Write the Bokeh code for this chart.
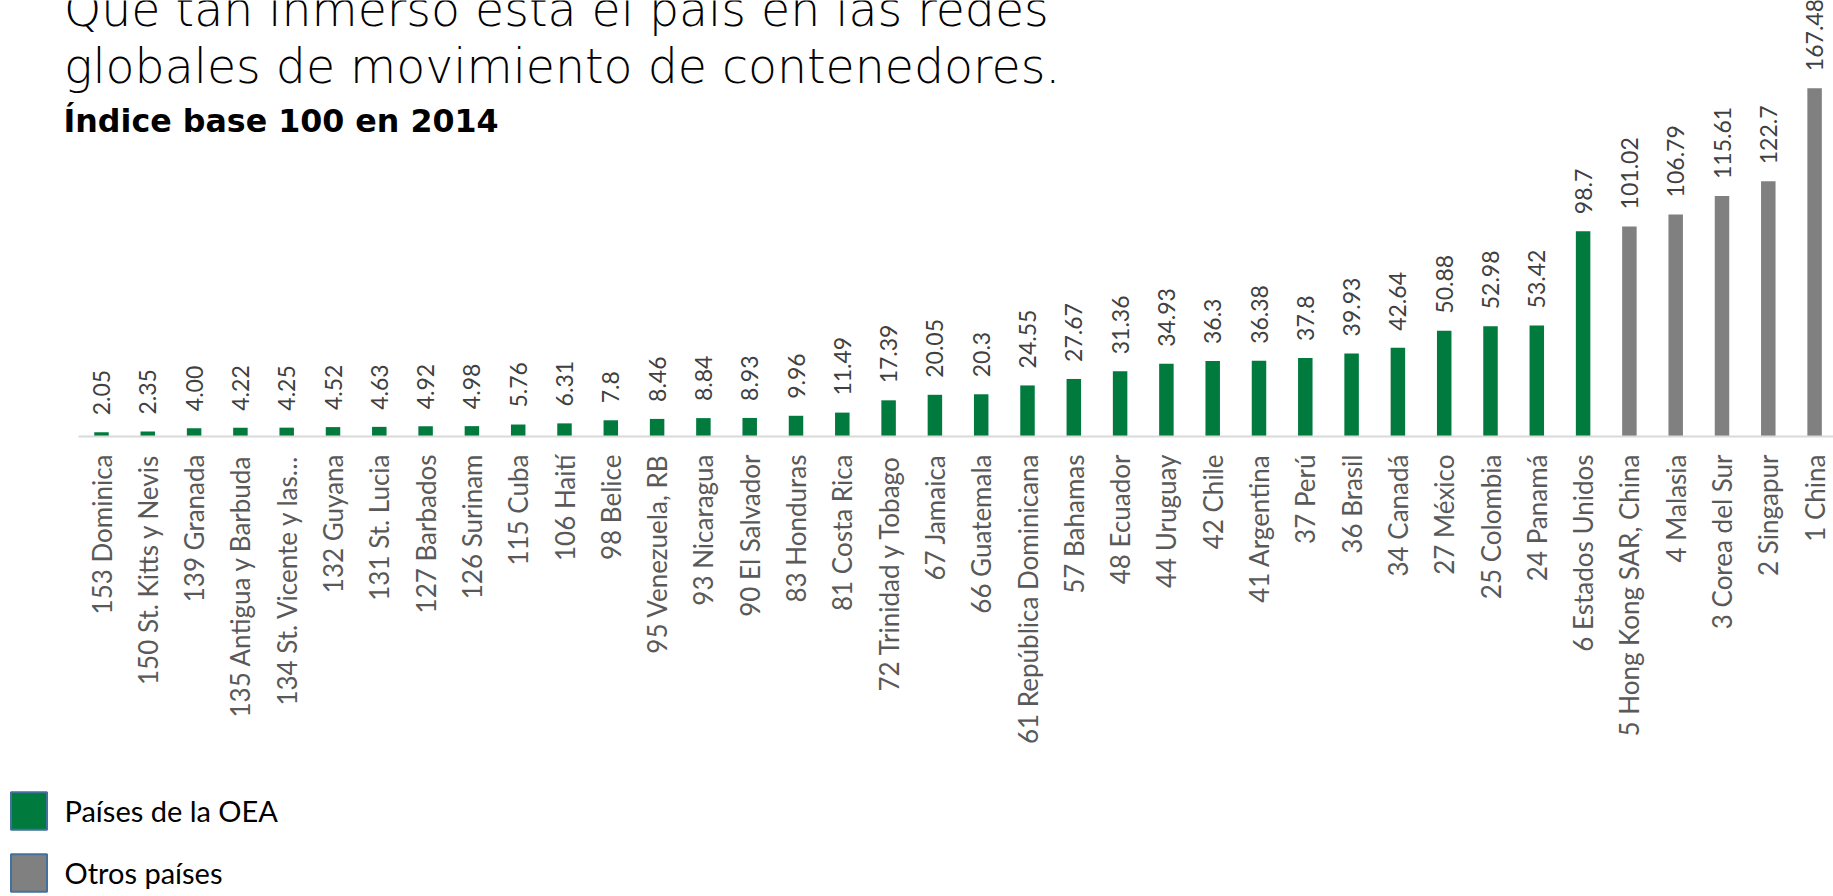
import math
from bokeh.plotting import figure
from bokeh.models import Range1d, FixedTicker, Label, Legend, LegendItem, ColumnDataSource
from bokeh.core.properties import value
from bokeh.embed import file_html
from bokeh.resources import INLINE

# ---------------- data ----------------
countries = [
    "153 Dominica", "150 St. Kitts y Nevis", "139 Granada",
    "135 Antigua y Barbuda", "134 St. Vicente y las…", "132 Guyana",
    "131 St. Lucia", "127 Barbados", "126 Surinam", "115 Cuba",
    "106 Haití", "98 Belice", "95 Venezuela, RB", "93 Nicaragua",
    "90 El Salvador", "83 Honduras", "81 Costa Rica",
    "72 Trinidad y Tobago", "67 Jamaica", "66 Guatemala",
    "61 República Dominicana", "57 Bahamas", "48 Ecuador", "44 Uruguay",
    "42 Chile", "41 Argentina", "37 Perú", "36 Brasil", "34 Canadá",
    "27 México", "25 Colombia", "24 Panamá", "6 Estados Unidos",
    "5 Hong Kong SAR, China", "4 Malasia", "3 Corea del Sur",
    "2 Singapur", "1 China",
]
values = [
    2.05, 2.35, 4.00, 4.22, 4.25, 4.52, 4.63, 4.92, 4.98, 5.76,
    6.31, 7.8, 8.46, 8.84, 8.93, 9.96, 11.49, 17.39, 20.05, 20.3,
    24.55, 27.67, 31.36, 34.93, 36.3, 36.38, 37.8, 39.93, 42.64,
    50.88, 52.98, 53.42, 98.7, 101.02, 106.79, 115.61, 122.7, 167.48,
]
value_labels = [
    "2.05", "2.35", "4.00", "4.22", "4.25", "4.52", "4.63", "4.92", "4.98",
    "5.76", "6.31", "7.8", "8.46", "8.84", "8.93", "9.96", "11.49", "17.39",
    "20.05", "20.3", "24.55", "27.67", "31.36", "34.93", "36.3", "36.38",
    "37.8", "39.93", "42.64", "50.88", "52.98", "53.42", "98.7", "101.02",
    "106.79", "115.61", "122.7", "167.48",
]
groups = ["OEA"] * 33 + ["Otros"] * 5
group_names = {"OEA": "Países de la OEA", "Otros": "Otros países"}
title_lines = ["Que tan inmerso está el país en las redes",
               "globales de movimiento de contenedores."]
subtitle = "Índice base 100 en 2014"

# ---------------- layout / style ----------------
GREEN = "#007A3D"
GREY = "#808080"
colors = {"OEA": GREEN, "Otros": GREY}

W, H = 1833, 896
OFFX, OFFY = 0, 0          # where the canvas sits in the page
X0, DX = 101.0, 46.3       # page px of first category centre, px per category
Y0, DY = 436.0, 2.08       # page px of the value 0, px per unit

def px2x(px):
    return (px - X0) / DX

def px2y(py):
    return (Y0 - py) / DY

xs = list(range(len(countries)))
src = ColumnDataSource(dict(
    x=xs, top=values, lab=value_labels,
    color=[colors[g] for g in groups],
))

p = figure(width=W, height=H, output_backend="svg", toolbar_location=None,
           x_range=Range1d(px2x(OFFX), px2x(OFFX + W)),
           y_range=Range1d(px2y(OFFY + H), px2y(OFFY)),
           min_border=0, title=None)
p.outline_line_color = None
p.grid.visible = False
p.yaxis.visible = False
p.background_fill_color = "white"
p.border_fill_color = "white"

p.vbar(x="x", top="top", bottom=0, width=0.313, fill_color="color",
       line_color=None, source=src)

p.text(x="x", y="top", text="lab", source=src, angle=math.pi / 2,
       text_align="left", text_baseline="middle", y_offset=-17,
       text_font=value("Lato"), text_font_size="23px",
       text_color="#404040")

ax = p.xaxis[0]
ax.fixed_location = 0
ax.bounds = (-0.5, 40)
ax.ticker = FixedTicker(ticks=xs)
ax.major_label_overrides = {i: c for i, c in zip(xs, countries)}
ax.major_label_orientation = math.pi / 2
ax.major_label_text_font = "Lato"
ax.major_label_text_font_size = "26px"
ax.major_label_text_color = "#595959"
ax.major_label_standoff = 18
ax.major_tick_line_color = None
ax.minor_tick_line_color = None
ax.major_tick_out = 0
ax.major_tick_in = 0
ax.axis_line_color = "#D9D9D9"
ax.axis_line_width = 2

# titles (baseline correction: Label places the alphabetic baseline ~0.355em low)
TITLE_FONT = "DejaVu Sans Light, DejaVu Sans"
TS = 47.4
for txt, py in zip(title_lines, [26, 83.3]):
    p.add_layout(Label(x=px2x(63.5), y=px2y(py - 0.355 * TS), text=txt,
                       text_font=TITLE_FONT, text_font_size=f"{TS}px",
                       text_color="black", text_baseline="alphabetic"))
p.add_layout(Label(x=px2x(63), y=px2y(131.7 - 0.355 * 31.7), text=subtitle,
                   text_font="DejaVu Sans", text_font_style="bold",
                   text_font_size="31.7px", text_color="black",
                   text_baseline="alphabetic"))

# legend: hidden one-bar renderers carrying the swatch styles
items = []
for g in ["OEA", "Otros"]:
    i0 = groups.index(g)
    r = p.vbar(x=[xs[i0]], top=[values[i0]], width=0.3,
               fill_color=colors[g], line_color="#41719C", line_width=2)
    r.visible = False
    items.append(LegendItem(label=group_names[g], renderers=[r]))
legend = Legend(items=items, location=(5.5 - OFFX, (OFFY + H) - 896.3),
                orientation="vertical", glyph_width=45, glyph_height=47,
                spacing=15, padding=0, margin=0, label_standoff=14,
                border_line_color=None, background_fill_alpha=0,
                inactive_fill_alpha=0,
                label_text_font="Lato", label_text_font_size="29px",
                label_text_color="black")
p.add_layout(legend)

open("out.html", "w").write(file_html(p, INLINE))
